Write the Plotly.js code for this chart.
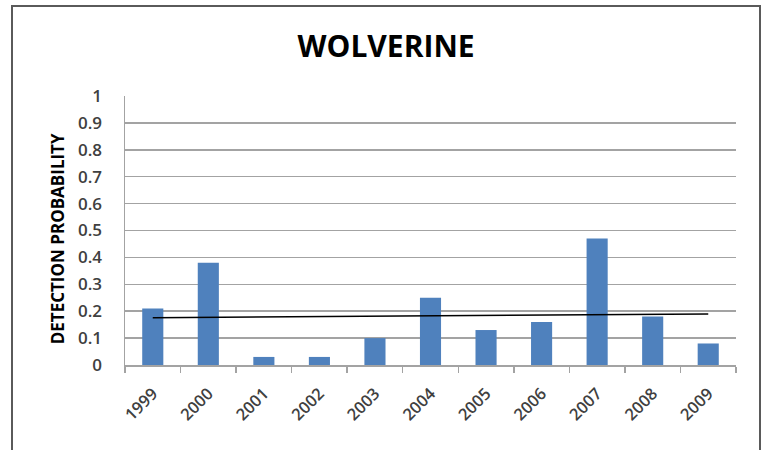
<!DOCTYPE html>
<html>
<head>
<meta charset="utf-8">
<script src="https://cdn.plot.ly/plotly-3.0.1.min.js"></script>
<style>
  html, body { margin: 0; padding: 0; background: #fff; }
  #wrap { position: relative; width: 766px; height: 450px; overflow: hidden; }
  #chart { position: absolute; left: 0; top: 0; width: 766px; height: 450px; }
  #frame { position: absolute; left: 11px; top: 5px; width: 746px; height: 470px;
           border: 2px solid #5a5a5a; pointer-events: none; }
</style>
</head>
<body>
<div id="wrap">
  <div id="chart"></div>
  <div id="frame"></div>
</div>
<script>
// Yearly detection probability for wolverine
const years = ['1999', '2000', '2001', '2002', '2003', '2004', '2005', '2006', '2007', '2008', '2009'];
const detection = [0.21, 0.38, 0.03, 0.03, 0.10, 0.25, 0.13, 0.16, 0.47, 0.18, 0.08];

// Linear trend line end points (first and last year)
const trendYears = ['1999', '2009'];
const trendValues = [0.176, 0.19];

const yTicks = [0, 0.1, 0.2, 0.3, 0.4, 0.5, 0.6, 0.7, 0.8, 0.9, 1];
const yTickText = ['0', '0.1', '0.2', '0.3', '0.4', '0.5', '0.6', '0.7', '0.8', '0.9', '1'];

const fontFamily = 'Open Sans, Lato, sans-serif';
const gridGray = '#a3a3a3';

const traces = [
  {
    type: 'bar',
    x: years,
    y: detection,
    marker: { color: '#4f81bd', line: { width: 0 } },
    hoverinfo: 'x+y'
  },
  {
    type: 'scatter',
    mode: 'lines',
    x: trendYears,
    y: trendValues,
    line: { color: '#000000', width: 1.5 },
    hoverinfo: 'skip'
  }
];

const layout = {
  width: 766,
  height: 450,
  margin: { l: 125, r: 30, t: 96, b: 85 },
  paper_bgcolor: '#ffffff',
  plot_bgcolor: '#ffffff',
  showlegend: false,
  bargap: 0.62,
  title: {
    text: '<b>WOLVERINE</b>',
    font: { family: fontFamily, size: 30, color: '#000000' },
    x: 0.504,
    xanchor: 'center',
    y: 0.897,
    yanchor: 'middle'
  },
  xaxis: {
    type: 'category',
    tickangle: -45,
    tickfont: { family: fontFamily, size: 16.5, color: '#404040', weight: 600 },
    ticks: 'outside',
    tickson: 'boundaries',
    ticklen: 6,
    tickcolor: gridGray,
    tickwidth: 1.5,
    ticklabelstandoff: 11,
    showline: true,
    linecolor: gridGray,
    linewidth: 1.5,
    showgrid: false,
    zeroline: false,
    fixedrange: true
  },
  yaxis: {
    range: [0, 1],
    tickvals: yTicks,
    ticktext: yTickText,
    tickfont: { family: fontFamily, size: 17, color: '#404040', weight: 600 },
    ticks: '',
    ticklabelstandoff: 18,
    showline: true,
    linecolor: gridGray,
    linewidth: 1.5,
    showgrid: true,
    gridcolor: gridGray,
    gridwidth: 1.5,
    zeroline: false,
    fixedrange: true
  },
  annotations: [
    {
      text: '<b>DETECTION PROBABILITY</b>',
      textangle: -90,
      xref: 'paper',
      yref: 'paper',
      x: -0.111,
      y: 0.468,
      xanchor: 'center',
      yanchor: 'middle',
      showarrow: false,
      font: { family: fontFamily, size: 17, color: '#000000' }
    }
  ]
};

Plotly.newPlot('chart', traces, layout, { displayModeBar: false, staticPlot: true });
</script>
</body>
</html>
